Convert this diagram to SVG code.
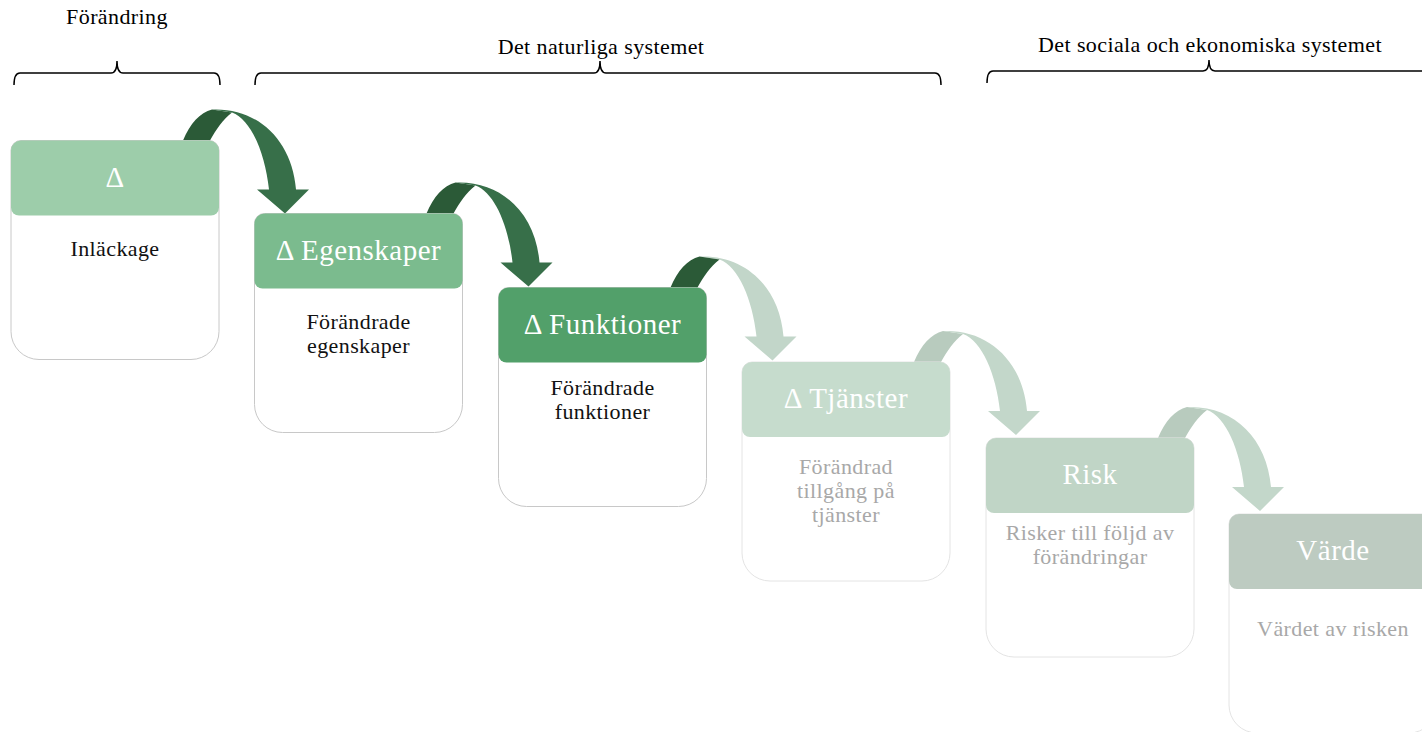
<svg xmlns="http://www.w3.org/2000/svg" width="1422" height="732" viewBox="0 0 1422 732">
<style>
text{font-family:"Liberation Serif","Times New Roman",serif;text-anchor:middle}
.lbl{font-size:22px;fill:#000;letter-spacing:0.4px}
.hd{font-size:29px;fill:#fff;letter-spacing:0.5px}
.bd{font-size:22px;fill:#111;letter-spacing:0.4px}
.bdl{font-size:22px;fill:#a8a8a8;letter-spacing:0.4px}
.brk{fill:none;stroke:#000;stroke-width:1.5}
.body{fill:#fff;stroke:#c8c8c8;stroke-width:1}
.bodyl{fill:#fff;stroke:#e4e4e4;stroke-width:1}
</style>
<defs>
<path id="bodyShape" d="M0,10 A10,10 0 0 1 10,0 L198,0 A10,10 0 0 1 208,10 L208,191 A28,28 0 0 1 180,219 L28,219 A28,28 0 0 1 0,191 Z"/>
<path id="headShape" d="M0,10 A10,10 0 0 1 10,0 L198,0 A10,10 0 0 1 208,10 L208,67 A8,8 0 0 1 200,75 L8,75 A8,8 0 0 1 0,67 Z"/>
<path id="arrDark" d="M171,4 L172,0 C179,-17 189,-28 201,-31 L221,-28 C212,-21 205,-11 199,0 L198,4 Z"/>
<path id="arrLight" d="M201,-31 C247,-33 281,0 285,49 L298,49 L274,73 L246,49 L258,49 C254,12 240,-21 221,-28 Z"/>
</defs>

<g id="brackets">
<text class="lbl" x="117" y="24">Förändring</text>
<path class="brk" d="M14,85 Q14,73 20,73 L111,73 Q117,73 117,61 Q117,73 123,73 L214,73 Q220,73 220,85"/>
<text class="lbl" x="601" y="54">Det naturliga systemet</text>
<path class="brk" d="M255,85 Q255,73 261,73 L594,73 Q600,73 600,61 Q600,73 606,73 L935,73 Q941,73 941,85"/>
<text class="lbl" x="1210" y="52">Det sociala och ekonomiska systemet</text>
<path class="brk" d="M987,83 Q987,71 993,71 L1203,71 Q1209,71 1209,60 Q1209,71 1215,71 L1430,71"/>
</g>

<g id="connectors">
<g transform="translate(11,140.5)"><use href="#arrDark" fill="#2b5a37"/><use href="#arrLight" fill="#376f49"/></g>
<g transform="translate(254.5,213.5)"><use href="#arrDark" fill="#2b5a37"/><use href="#arrLight" fill="#376f49"/></g>
<g transform="translate(498.5,287.5)"><use href="#arrLight" fill="#c2d6c9"/><use href="#arrDark" fill="#2b5a37"/></g>
<g transform="translate(742,362)"><use href="#arrDark" fill="#b8cbbe"/><use href="#arrLight" fill="#c3d7ca"/></g>
<g transform="translate(986,438)"><use href="#arrDark" fill="#b8cbbe"/><use href="#arrLight" fill="#c3d7ca"/></g>
</g>

<g id="node-delta" transform="translate(11,140.5)">
<use href="#bodyShape" class="body"/>
<use href="#headShape" fill="#9dcdaa"/>
<text class="hd" x="104" y="46">Δ</text>
<text class="bd" x="104" y="115">Inläckage</text>
</g>

<g id="node-egenskaper" transform="translate(254.5,213.5)">
<use href="#bodyShape" class="body"/>
<use href="#headShape" fill="#7bbb8e"/>
<text class="hd" x="104" y="46">Δ Egenskaper</text>
<text class="bd" x="104" y="115.5">Förändrade</text>
<text class="bd" x="104" y="139">egenskaper</text>
</g>

<g id="node-funktioner" transform="translate(498.5,287.5)">
<use href="#bodyShape" class="body"/>
<use href="#headShape" fill="#52a06a"/>
<text class="hd" x="104" y="46">Δ Funktioner</text>
<text class="bd" x="104" y="107">Förändrade</text>
<text class="bd" x="104" y="131">funktioner</text>
</g>

<g id="node-tjanster" transform="translate(742,362)">
<use href="#bodyShape" class="bodyl"/>
<use href="#headShape" fill="#c6dccd"/>
<text class="hd" x="104" y="46">Δ Tjänster</text>
<text class="bdl" x="104" y="111.5">Förändrad</text>
<text class="bdl" x="104" y="135.5">tillgång på</text>
<text class="bdl" x="104" y="159.5">tjänster</text>
</g>

<g id="node-risk" transform="translate(986,438)">
<use href="#bodyShape" class="bodyl"/>
<use href="#headShape" fill="#c0d5c6"/>
<text class="hd" x="104" y="46">Risk</text>
<text class="bdl" x="104" y="102">Risker till följd av</text>
<text class="bdl" x="104" y="126">förändringar</text>
</g>

<g id="node-varde" transform="translate(1229,514)">
<use href="#bodyShape" class="bodyl"/>
<use href="#headShape" fill="#bdcbc1"/>
<text class="hd" x="104" y="46">Värde</text>
<text class="bdl" x="104" y="122">Värdet av risken</text>
</g>
</svg>
